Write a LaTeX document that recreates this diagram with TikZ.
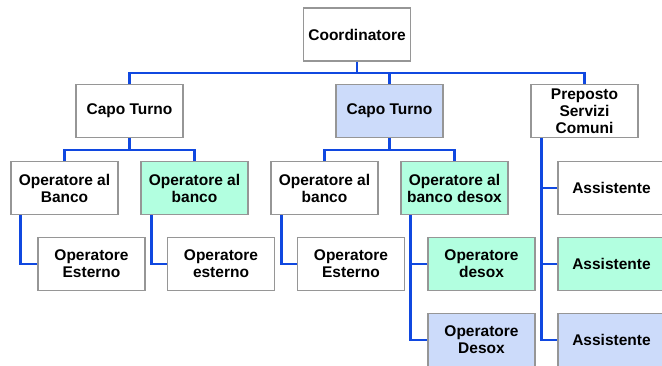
\documentclass[tikz,border=0pt]{standalone}
\usepackage{fontspec}
\setmainfont{Liberation Sans}
\definecolor{linkblue}{RGB}{16,72,224}
\definecolor{boxgray}{RGB}{150,150,150}
\definecolor{mint}{RGB}{178,255,224}
\definecolor{paleblue}{RGB}{204,219,250}
\begin{document}
\begin{tikzpicture}[x=1pt,y=-1pt,
  box/.style={draw=boxgray,line width=1.2pt,fill=white,minimum width=107pt,minimum height=53pt,
    align=center,inner sep=2pt,font=\fontsize{15.5}{17}\selectfont\bfseries},
  green/.style={fill=mint},
  blue/.style={fill=paleblue},
  link/.style={draw=linkblue,line width=2.2pt}]
\useasboundingbox (0,0) rectangle (662,365);
\clip (0,0) rectangle (662,365);
% connectors first (behind boxes)
\node[box] (coord) at (357,34.5) {Coordinatore};
\node[box] (cap1) at (129.5,111) {Capo Turno};
\node[box,blue] (cap2) at (389.5,111) {Capo Turno};
\node[box] (prep) at (584.5,111) {Preposto\\Servizi\\Comuni};
\node[box] (ob1) at (64.5,188) {Operatore al\\Banco};
\node[box,green] (ob2) at (194.5,188) {Operatore al\\banco};
\node[box] (ob3) at (324.5,188) {Operatore al\\banco};
\node[box,green] (ob4) at (454.5,188) {Operatore al\\banco desox};
\node[box] (oe1) at (91.5,264) {Operatore\\Esterno};
\node[box] (oe2) at (221,264) {Operatore\\esterno};
\node[box] (oe3) at (351,264) {Operatore\\Esterno};
\node[box,green] (od1) at (481.5,264) {Operatore\\desox};
\node[box,blue] (od2) at (481.5,340) {Operatore\\Desox};
\node[box] (as1) at (611.5,188) {Assistente};
\node[box,green] (as2) at (611.5,264) {Assistente};
\node[box,blue] (as3) at (611.5,340) {Assistente};
% links
\draw[link] (coord.south) -- (coord.south |- 0,73) -| (cap1.north);
\draw[link] (coord.south |- 0,73) -| (cap2.north);
\draw[link] (coord.south |- 0,73) -| (prep.north);
\draw[link] (cap1.south) -- (cap1.south |- 0,150) -| (ob1.north);
\draw[link] (cap1.south |- 0,150) -| (ob2.north);
\draw[link] (cap2.south) -- (cap2.south |- 0,150) -| (ob3.north);
\draw[link] (cap2.south |- 0,150) -| (ob4.north);
\draw[link] ([xshift=10pt]ob1.south west) |- (oe1.west);
\draw[link] ([xshift=11pt]ob2.south west) |- (oe2.west);
\draw[link] ([xshift=11pt]ob3.south west) |- (oe3.west);
\coordinate (d4) at ([xshift=10pt]ob4.south west);
\draw[link] (d4) |- (od2.west);
\draw[link] (od1.west) -- (od1.west -| d4);
\coordinate (pp) at ([xshift=11pt]prep.south west);
\draw[link] (pp) |- (as3.west);
\draw[link] (as1.west) -- (as1.west -| pp);
\draw[link] (as2.west) -- (as2.west -| pp);
\end{tikzpicture}
\end{document}
